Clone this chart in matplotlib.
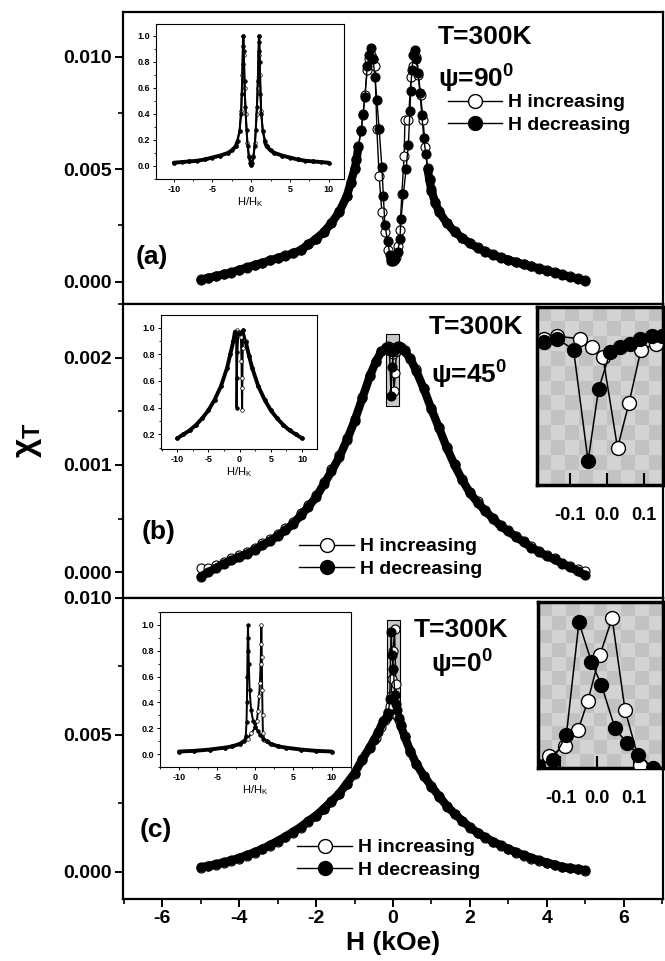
import matplotlib
matplotlib.use("Agg")
import matplotlib.pyplot as plt
import numpy as np
from matplotlib.lines import Line2D
from matplotlib.patches import Rectangle
from matplotlib.colors import ListedColormap
from matplotlib.ticker import MultipleLocator

plt.rcParams.update({
    "font.family": ["Liberation Sans", "DejaVu Sans"],
    "font.weight": "bold",
    "axes.labelweight": "bold",
    "mathtext.fontset": "custom",
    "mathtext.rm": "Liberation Sans",
    "mathtext.bf": "Liberation Sans:bold",
    "axes.unicode_minus": False,
})

# ---- main curves, (H in kOe, chi_T) ----
# panel (a), psi = 90
a_dec = [(5.0, 0.00003), (4.8, 0.00012), (4.6, 0.00021), (4.4, 0.00031), (4.2, 0.00040),
         (4.0, 0.00049), (3.8, 0.00058), (3.6, 0.00067), (3.4, 0.00076), (3.2, 0.00086),
         (3.0, 0.00096), (2.8, 0.00107), (2.6, 0.00119), (2.4, 0.00133), (2.2, 0.00150),
         (2.0, 0.00170), (1.8, 0.00194), (1.6, 0.00222), (1.4, 0.00260), (1.2, 0.00310),
         (1.1, 0.00350), (1.0, 0.00405), (0.95, 0.00450), (0.9, 0.00500), (0.85, 0.00570),
         (0.8, 0.00640), (0.75, 0.00740), (0.7, 0.00840), (0.65, 0.00930), (0.6, 0.00990),
         (0.57, 0.01030), (0.53, 0.01010), (0.49, 0.00940), (0.46, 0.00850), (0.44, 0.00760),
         (0.40, 0.00610), (0.34, 0.00500), (0.27, 0.00390), (0.21, 0.00280), (0.18, 0.00190),
         (0.12, 0.00130), (0.06, 0.00100), (0.0, 0.00090), (-0.04, 0.00090), (-0.08, 0.00120),
         (-0.14, 0.00180), (-0.21, 0.00250), (-0.25, 0.00380), (-0.29, 0.00510), (-0.36, 0.00680),
         (-0.42, 0.00810), (-0.47, 0.00910), (-0.52, 0.00990), (-0.57, 0.01040), (-0.62, 0.01010),
         (-0.67, 0.00960), (-0.73, 0.00820), (-0.78, 0.00740), (-0.83, 0.00670), (-0.9, 0.00600),
         (-0.95, 0.00540), (-1.0, 0.00500), (-1.1, 0.00440), (-1.2, 0.00380), (-1.4, 0.00310),
         (-1.6, 0.00260), (-1.8, 0.00220), (-2.0, 0.00190), (-2.2, 0.00165), (-2.4, 0.00140),
         (-2.6, 0.00125), (-2.8, 0.00115), (-3.0, 0.00104), (-3.2, 0.00094), (-3.4, 0.00083),
         (-3.6, 0.00073), (-3.8, 0.00062), (-4.0, 0.00052), (-4.2, 0.00040), (-4.4, 0.00032),
         (-4.6, 0.00024), (-4.8, 0.00016), (-5.0, 0.00008)]
a_inc = [(-5.0, 0.00010), (-4.8, 0.00017), (-4.6, 0.00025), (-4.4, 0.00033), (-4.2, 0.00041),
         (-4.0, 0.00053), (-3.8, 0.00063), (-3.6, 0.00074), (-3.4, 0.00084), (-3.2, 0.00095),
         (-3.0, 0.00105), (-2.8, 0.00116), (-2.6, 0.00126), (-2.4, 0.00141), (-2.2, 0.00166),
         (-2.0, 0.00191), (-1.8, 0.00221), (-1.6, 0.00261), (-1.4, 0.00312), (-1.2, 0.00382),
         (-1.1, 0.00443), (-1.0, 0.00505), (-0.95, 0.00545), (-0.9, 0.00605), (-0.83, 0.00675),
         (-0.78, 0.00745), (-0.73, 0.00830), (-0.67, 0.00940), (-0.62, 0.00990), (-0.57, 0.01010),
         (-0.52, 0.00990), (-0.47, 0.00960), (-0.42, 0.00680), (-0.36, 0.00470), (-0.29, 0.00310),
         (-0.21, 0.00220), (-0.12, 0.00140), (-0.05, 0.00100), (0.02, 0.00095), (0.08, 0.00110),
         (0.13, 0.00160), (0.18, 0.00230), (0.23, 0.00390), (0.29, 0.00560), (0.31, 0.00720),
         (0.40, 0.00720), (0.47, 0.00910), (0.53, 0.00960), (0.60, 0.01000), (0.66, 0.00920),
         (0.72, 0.00830), (0.78, 0.00720), (0.84, 0.00600), (0.9, 0.00505), (0.95, 0.00455),
         (1.0, 0.00410), (1.1, 0.00355), (1.2, 0.00315), (1.4, 0.00262), (1.6, 0.00224),
         (1.8, 0.00196), (2.0, 0.00172), (2.2, 0.00152), (2.4, 0.00135), (2.6, 0.00121),
         (2.8, 0.00109), (3.0, 0.00098), (3.2, 0.00088), (3.4, 0.00078), (3.6, 0.00069),
         (3.8, 0.00060), (4.0, 0.00051), (4.2, 0.00042), (4.4, 0.00033), (4.6, 0.00023),
         (4.8, 0.00014), (5.0, 0.00005)]

# panel (b), psi = 45
b_dec = [(5.0, -0.00003), (4.8, 0.00001), (4.6, 0.00005), (4.4, 0.00008), (4.2, 0.00012),
         (4.0, 0.00015), (3.8, 0.00019), (3.6, 0.00023), (3.4, 0.00028), (3.2, 0.00033),
         (3.0, 0.00038), (2.8, 0.00043), (2.6, 0.00050), (2.4, 0.00057), (2.2, 0.00065),
         (2.0, 0.00074), (1.8, 0.00086), (1.6, 0.00100), (1.4, 0.00116), (1.2, 0.00134),
         (1.0, 0.00152), (0.8, 0.00171), (0.6, 0.00188), (0.45, 0.00199), (0.3, 0.00206),
         (0.2, 0.00210), (0.147, 0.00211), (0.120, 0.00211), (0.089, 0.00210), (0.062, 0.00208),
         (0.035, 0.00207), (0.008, 0.00205), (-0.023, 0.00191), (-0.051, 0.00164), (-0.090, 0.00206),
         (-0.134, 0.00210), (-0.170, 0.00209), (-0.3, 0.00206), (-0.45, 0.00196), (-0.6, 0.00183),
         (-0.8, 0.00162), (-1.0, 0.00141), (-1.2, 0.00123), (-1.4, 0.00107), (-1.6, 0.00094),
         (-1.8, 0.00082), (-2.0, 0.00070), (-2.2, 0.00061), (-2.4, 0.00053), (-2.6, 0.00045),
         (-2.8, 0.00039), (-3.0, 0.00034), (-3.2, 0.00029), (-3.4, 0.00025), (-3.6, 0.00021),
         (-3.8, 0.00017), (-4.0, 0.00014), (-4.2, 0.00011), (-4.4, 0.00008), (-4.6, 0.00004),
         (-4.8, 0.00000), (-5.0, -0.00004)]
b_inc = [(-5.0, 0.00004), (-4.8, 0.00004), (-4.6, 0.00007), (-4.4, 0.00010), (-4.2, 0.00013),
         (-4.0, 0.00016), (-3.8, 0.00019), (-3.6, 0.00023), (-3.4, 0.00027), (-3.2, 0.00031),
         (-3.0, 0.00036), (-2.8, 0.00041), (-2.6, 0.00047), (-2.4, 0.00055), (-2.2, 0.00063),
         (-2.0, 0.00072), (-1.8, 0.00084), (-1.6, 0.00096), (-1.4, 0.00109), (-1.2, 0.00125),
         (-1.0, 0.00143), (-0.8, 0.00163), (-0.6, 0.00184), (-0.45, 0.00197), (-0.3, 0.00206),
         (-0.17, 0.00210), (-0.134, 0.00211), (-0.072, 0.00210), (-0.041, 0.00207), (-0.011, 0.00203),
         (0.028, 0.00169), (0.059, 0.00186), (0.091, 0.00206), (0.131, 0.00208), (0.2, 0.00209),
         (0.3, 0.00207), (0.45, 0.00200), (0.6, 0.00189), (0.8, 0.00172), (1.0, 0.00153),
         (1.2, 0.00135), (1.4, 0.00117), (1.6, 0.00101), (1.8, 0.00087), (2.0, 0.00075),
         (2.2, 0.00066), (2.4, 0.00058), (2.6, 0.00051), (2.8, 0.00044), (3.0, 0.00039),
         (3.2, 0.00034), (3.4, 0.00029), (3.6, 0.00024), (3.8, 0.00020), (4.0, 0.00016),
         (4.2, 0.00013), (4.4, 0.00009), (4.6, 0.00006), (4.8, 0.00003), (5.0, 0.00001)]

# panel (c), psi = 0
c_dec = [(5.0, 0.00005), (4.8, 0.00009), (4.6, 0.00013), (4.4, 0.00017), (4.2, 0.00025),
         (4.0, 0.00033), (3.8, 0.00041), (3.6, 0.00050), (3.4, 0.00060), (3.2, 0.00071),
         (3.0, 0.00083), (2.8, 0.00096), (2.6, 0.00110), (2.4, 0.00125), (2.2, 0.00142),
         (2.0, 0.00162), (1.8, 0.00186), (1.6, 0.00212), (1.4, 0.00240), (1.2, 0.00275),
         (1.0, 0.00312), (0.8, 0.00350), (0.6, 0.00395), (0.45, 0.00440), (0.3, 0.00495),
         (0.2, 0.00535), (0.15, 0.00560), (0.111, 0.00589), (0.080, 0.00614), (0.048, 0.00646),
         (0.011, 0.00740), (-0.016, 0.00790), (-0.050, 0.00876), (-0.084, 0.00632), (-0.120, 0.00578),
         (-0.16, 0.00565), (-0.25, 0.00550), (-0.38, 0.00510), (-0.5, 0.00480), (-0.6, 0.00455),
         (-0.8, 0.00410), (-1.0, 0.00360), (-1.2, 0.00322), (-1.4, 0.00285), (-1.6, 0.00257),
         (-1.8, 0.00230), (-2.0, 0.00205), (-2.2, 0.00185), (-2.4, 0.00163), (-2.6, 0.00145),
         (-2.8, 0.00128), (-3.0, 0.00112), (-3.2, 0.00097), (-3.4, 0.00083), (-3.6, 0.00071),
         (-3.8, 0.00060), (-4.0, 0.00050), (-4.2, 0.00041), (-4.4, 0.00034), (-4.6, 0.00027),
         (-4.8, 0.00021), (-5.0, 0.00016)]
c_inc = [(-5.0, 0.00014), (-4.8, 0.00019), (-4.6, 0.00025), (-4.4, 0.00032), (-4.2, 0.00039),
         (-4.0, 0.00048), (-3.8, 0.00058), (-3.6, 0.00069), (-3.4, 0.00081), (-3.2, 0.00095),
         (-3.0, 0.00110), (-2.8, 0.00126), (-2.6, 0.00143), (-2.4, 0.00161), (-2.2, 0.00183),
         (-2.0, 0.00203), (-1.8, 0.00228), (-1.6, 0.00255), (-1.4, 0.00283), (-1.2, 0.00320),
         (-1.0, 0.00358), (-0.8, 0.00408), (-0.6, 0.00453), (-0.45, 0.00490), (-0.3, 0.00530),
         (-0.2, 0.00555), (-0.13, 0.00585), (-0.089, 0.00607), (-0.052, 0.00643), (-0.026, 0.00705),
         (0.007, 0.00805), (0.040, 0.00885), (0.075, 0.00686), (0.116, 0.00567), (0.15, 0.00555),
         (0.2, 0.00533), (0.3, 0.00493), (0.45, 0.00438), (0.6, 0.00393), (0.8, 0.00348),
         (1.0, 0.00310), (1.2, 0.00273), (1.4, 0.00238), (1.6, 0.00210), (1.8, 0.00184),
         (2.0, 0.00160), (2.2, 0.00140), (2.4, 0.00123), (2.6, 0.00108), (2.8, 0.00094),
         (3.0, 0.00081), (3.2, 0.00069), (3.4, 0.00058), (3.6, 0.00048), (3.8, 0.00039),
         (4.0, 0.00031), (4.2, 0.00024), (4.4, 0.00016), (4.6, 0.00012), (4.8, 0.00008),
         (5.0, 0.00004)]

# ---- left insets, normalised chi vs H/H_K ----
ia_dec = [(10, 0.025), (9, 0.03), (8, 0.035), (7, 0.04), (6, 0.05), (5, 0.065), (4, 0.08),
          (3, 0.10), (2.5, 0.12), (2, 0.15), (1.75, 0.19), (1.5, 0.27), (1.3, 0.40), (1.2, 0.55),
          (1.1, 0.80), (1.05, 0.95), (1.0, 1.0), (0.95, 0.88), (0.85, 0.65), (0.75, 0.45),
          (0.6, 0.28), (0.45, 0.15), (0.3, 0.07), (0.15, 0.02), (0, 0.005), (-0.15, 0.02),
          (-0.3, 0.07), (-0.45, 0.15), (-0.6, 0.28), (-0.75, 0.45), (-0.85, 0.65), (-0.95, 0.88),
          (-1.0, 1.0), (-1.05, 0.92), (-1.1, 0.78), (-1.2, 0.55), (-1.3, 0.40), (-1.5, 0.27),
          (-1.75, 0.19), (-2, 0.15), (-2.5, 0.12), (-3, 0.10), (-4, 0.08), (-5, 0.065),
          (-6, 0.05), (-7, 0.04), (-8, 0.035), (-9, 0.03), (-10, 0.025)]
ia_inc = [(-10, 0.025), (-8, 0.035), (-6, 0.05), (-4, 0.08), (-3, 0.10), (-2, 0.15),
          (-1.5, 0.27), (-1.3, 0.42), (-1.15, 0.70), (-1.05, 1.0), (-0.95, 0.85), (-0.85, 0.60),
          (-0.7, 0.40), (-0.5, 0.18), (-0.3, 0.08), (0, 0.01), (0.3, 0.08), (0.5, 0.18),
          (0.7, 0.40), (0.85, 0.60), (0.95, 0.85), (1.05, 1.0), (1.15, 0.70), (1.3, 0.42),
          (1.5, 0.27), (2, 0.15), (3, 0.10), (4, 0.08), (6, 0.05), (8, 0.035), (10, 0.025)]

ib_dec = [(10, 0.17), (9, 0.20), (8, 0.23), (7, 0.27), (6, 0.32), (5, 0.38), (4, 0.46),
          (3, 0.56), (2, 0.70), (1.5, 0.79), (1, 0.89), (0.5, 0.98), (0.25, 0.97), (0, 0.96),
          (-0.2, 0.96), (-0.35, 0.82), (-0.45, 0.62), (-0.5, 0.40), (-0.55, 0.95), (-0.75, 0.97),
          (-1, 0.90), (-1.5, 0.80), (-2, 0.70), (-3, 0.56), (-4, 0.46), (-5, 0.38), (-6, 0.32),
          (-7, 0.27), (-8, 0.23), (-9, 0.20), (-10, 0.17)]
ib_inc = [(-10, 0.17), (-9, 0.20), (-8, 0.23), (-7, 0.27), (-6, 0.32), (-5, 0.38), (-4, 0.46),
          (-3, 0.56), (-2, 0.70), (-1.5, 0.80), (-1, 0.90), (-0.5, 0.98), (-0.25, 0.97), (0, 0.96),
          (0.2, 0.93), (0.3, 0.75), (0.35, 0.55), (0.4, 0.38), (0.45, 0.62), (0.5, 0.85),
          (0.6, 0.98), (1, 0.90), (1.5, 0.79), (2, 0.70), (3, 0.56), (4, 0.46), (5, 0.38),
          (6, 0.32), (7, 0.27), (8, 0.23), (9, 0.20), (10, 0.17)]

ic_dec = [(10, 0.02), (8, 0.025), (6, 0.035), (4, 0.05), (3, 0.06), (2, 0.08), (1.5, 0.10),
          (1, 0.12), (0.6, 0.15), (0.3, 0.18), (0, 0.21), (-0.3, 0.26), (-0.55, 0.34),
          (-0.75, 0.50), (-0.85, 0.70), (-0.92, 0.90), (-0.96, 1.0), (-1.02, 0.80), (-1.06, 0.60),
          (-1.1, 0.40), (-1.15, 0.25), (-1.25, 0.14), (-1.5, 0.10), (-2, 0.08), (-3, 0.06),
          (-4, 0.05), (-6, 0.035), (-8, 0.025), (-10, 0.02)]
ic_inc = [(-10, 0.02), (-8, 0.025), (-6, 0.035), (-4, 0.05), (-3, 0.06), (-2, 0.08),
          (-1, 0.12), (-0.5, 0.16), (0, 0.21), (0.2, 0.26), (0.35, 0.33), (0.5, 0.45),
          (0.6, 0.55), (0.7, 0.70), (0.75, 0.85), (0.79, 1.0), (0.85, 0.75), (0.9, 0.50),
          (0.95, 0.30), (1.0, 0.16), (1.2, 0.11), (1.5, 0.10), (2, 0.08), (3, 0.06), (4, 0.05),
          (6, 0.035), (8, 0.025), (10, 0.02)]

W, H = 665, 961


def rect(x0, y0, x1, y1):
    # pixel box (top-left origin) -> figure fraction
    return [x0 / W, 1 - y1 / H, (x1 - x0) / W, (y1 - y0) / H]


def draw_pair(ax, inc, dec, ms, lw, mew=0.8, band=None, band_lw=6.0):
    inc = np.array(inc)
    dec = np.array(dec)
    ax.plot(inc[:, 0], inc[:, 1], '-o', color='k', lw=lw, ms=ms,
            mfc='white', mec='k', mew=mew, zorder=3)
    if band is not None:
        # the measured points sit so close together in the tails that they merge
        # into a solid black band; draw that band under the markers
        tail = np.ma.masked_where(np.abs(dec[:, 0]) < band, dec[:, 1])
        ax.plot(dec[:, 0], tail, '-', color='k', lw=band_lw,
                solid_capstyle='round', solid_joinstyle='round', zorder=4)
    ax.plot(dec[:, 0], dec[:, 1], '-o', color='k', lw=lw, ms=ms,
            mfc='k', mec='k', mew=mew, zorder=4)


def style_main(ax, ylim, ticks, labels, minor):
    ax.set_xlim(-7.02, 7.02)
    ax.set_ylim(*ylim)
    ax.set_yticks(ticks)
    ax.set_yticklabels(labels)
    ax.yaxis.set_minor_locator(MultipleLocator(minor))
    ax.xaxis.set_major_locator(MultipleLocator(2))
    ax.xaxis.set_minor_locator(MultipleLocator(1))
    ax.tick_params(direction='out', length=6, width=1.4, labelsize=14, pad=2)
    ax.tick_params(which='minor', direction='out', length=3.5, width=1.2)
    for s in ax.spines.values():
        s.set_linewidth(1.6)


def left_inset(box, data_inc, data_dec, xlim, ylim, yticks, band):
    ax = fig.add_axes(rect(*box))
    draw_pair(ax, data_inc, data_dec, ms=2.6, lw=1.4, mew=0.5, band=band, band_lw=2.8)
    ax.set_xlim(*xlim)
    ax.set_ylim(*ylim)
    ax.set_xticks([-10, -5, 0, 5, 10])
    ax.set_yticks(yticks)
    ax.set_yticklabels([f"{t:.1f}" for t in yticks])
    ax.xaxis.set_minor_locator(MultipleLocator(2.5))
    ax.yaxis.set_minor_locator(MultipleLocator(0.1))
    ax.tick_params(direction='out', length=2.5, width=0.7, labelsize=6.5, pad=1.5)
    ax.tick_params(which='minor', length=1.5, width=0.6)
    ax.set_xlabel('H/H$_\\mathregular{K}$', fontsize=8, fontweight='normal', labelpad=1)
    for s in ax.spines.values():
        s.set_linewidth(0.8)
    return ax


def zoom_inset(box, data_inc, data_dec, xlim, ylim):
    ax = fig.add_axes(rect(*box))
    checker = np.indices((12, 9)).sum(axis=0) % 2
    ax.imshow(checker, cmap=ListedColormap(['#c2c2c2', '#d3d3d3']),
              extent=(xlim[0], xlim[1], ylim[0], ylim[1]), aspect='auto',
              interpolation='nearest', zorder=0)
    draw_pair(ax, data_inc, data_dec, ms=10, lw=1.1, mew=1.0)
    ax.set_xlim(*xlim)
    ax.set_ylim(*ylim)
    ax.set_xticks([-0.1, 0.0, 0.1])
    ax.set_xticklabels(['-0.1', '0.0', '0.1'])
    ax.set_yticks([])
    ax.tick_params(axis='x', direction='in', length=9, width=1.5, labelsize=13, pad=16)
    for s in ax.spines.values():
        s.set_linewidth(2.5)
    return ax


fig = plt.figure(figsize=(W / 100, H / 100), dpi=100)

ax_a = fig.add_axes(rect(123, 12, 663, 304))
ax_b = fig.add_axes(rect(123, 304, 663, 598))
ax_c = fig.add_axes(rect(123, 598, 663, 899))

draw_pair(ax_a, a_inc, a_dec, ms=6.5, lw=1.0, band=0.9)
draw_pair(ax_b, b_inc, b_dec, ms=6.5, lw=1.0, band=0.25)
draw_pair(ax_c, c_inc, c_dec, ms=6.5, lw=1.0, band=0.16)

style_main(ax_a, (-0.001, 0.012), [0.0, 0.005, 0.010], ['0.000', '0.005', '0.010'], 0.0025)
style_main(ax_b, (-0.00024, 0.0025), [0.0, 0.001, 0.002], ['0.000', '0.001', '0.002'], 0.0005)
style_main(ax_c, (-0.001, 0.010), [0.0, 0.005, 0.010], ['0.000', '0.005', '0.010'], 0.0025)
for ax in (ax_a, ax_b):
    ax.tick_params(axis='x', which='both', bottom=False, labelbottom=False)
ax_c.set_xlabel('H (kOe)', fontsize=19, fontweight='bold', labelpad=3)

# zoom windows shown in the right-hand insets
zb_x, zb_y = (-0.188, 0.150), (0.00155, 0.00222)
zc_x, zc_y = (-0.161, 0.178), (0.0056, 0.0092)
for ax, zx, zy in ((ax_b, zb_x, zb_y), (ax_c, zc_x, zc_y)):
    ax.add_patch(Rectangle((zx[0], zy[0]), zx[1] - zx[0], zy[1] - zy[0],
                           facecolor='#c8c8c8', edgecolor='k', lw=0.8, zorder=2))

fig.text(28 / W, 1 - 440 / H, 'χ$_\\mathbf{T}$', rotation=90, fontsize=24,
         ha='center', va='center')

# annotations
texts = [
    (ax_a, 0.583, 0.913, 'T=300K', 0.583, 0.777, 'ψ=90$^\\mathbf{0}$', 0.024, 0.161, '(a)'),
    (ax_b, 0.566, 0.923, 'T=300K', 0.570, 0.765, 'ψ=45$^\\mathbf{0}$', 0.035, 0.224, '(b)'),
    (ax_c, 0.538, 0.894, 'T=300K', 0.570, 0.784, 'ψ=0$^\\mathbf{0}$', 0.031, 0.229, '(c)'),
]
for ax, tx, ty, t1, px, py, t2, lx, ly, lab in texts:
    ax.text(tx, ty, t1, transform=ax.transAxes, fontsize=19, va='center', ha='left')
    ax.text(px, py, t2, transform=ax.transAxes, fontsize=19, va='center', ha='left')
    ax.text(lx, ly, lab, transform=ax.transAxes, fontsize=19, va='center', ha='left')

handles = [Line2D([], [], color='k', lw=1, marker='o', ms=10, mfc='white', mec='k'),
           Line2D([], [], color='k', lw=1, marker='o', ms=10, mfc='k', mec='k')]
names = ['H increasing', 'H decreasing']
for ax, lx, ly in ((ax_a, 0.601, 0.72), (ax_b, 0.3265, 0.205), (ax_c, 0.323, 0.2)):
    ax.legend(handles, names, loc='upper left', bbox_to_anchor=(lx, ly), frameon=False,
              fontsize=14, handlelength=2.8, handletextpad=0.3, labelspacing=0.25,
              borderpad=0, borderaxespad=0)

# left insets
left_inset((156, 24, 344, 179), ia_inc, ia_dec, (-12.3, 12.0), (-0.1, 1.09),
           [0.0, 0.2, 0.4, 0.6, 0.8, 1.0], band=1.6)
left_inset((161, 315, 317, 449), ib_inc, ib_dec, (-12.6, 12.4), (0.09, 1.095),
           [0.2, 0.4, 0.6, 0.8, 1.0], band=0.6)
left_inset((160, 612, 351, 767), ic_inc, ic_dec, (-12.5, 12.55), (-0.1, 1.1),
           [0.0, 0.2, 0.4, 0.6, 0.8, 1.0], band=1.3)

# right zoom insets
zoom_inset((537, 307, 663, 485), b_inc, b_dec, zb_x, zb_y)
zoom_inset((538, 602, 663, 768), c_inc, c_dec, zc_x, zc_y)

fig.savefig('out.png', dpi=100)
